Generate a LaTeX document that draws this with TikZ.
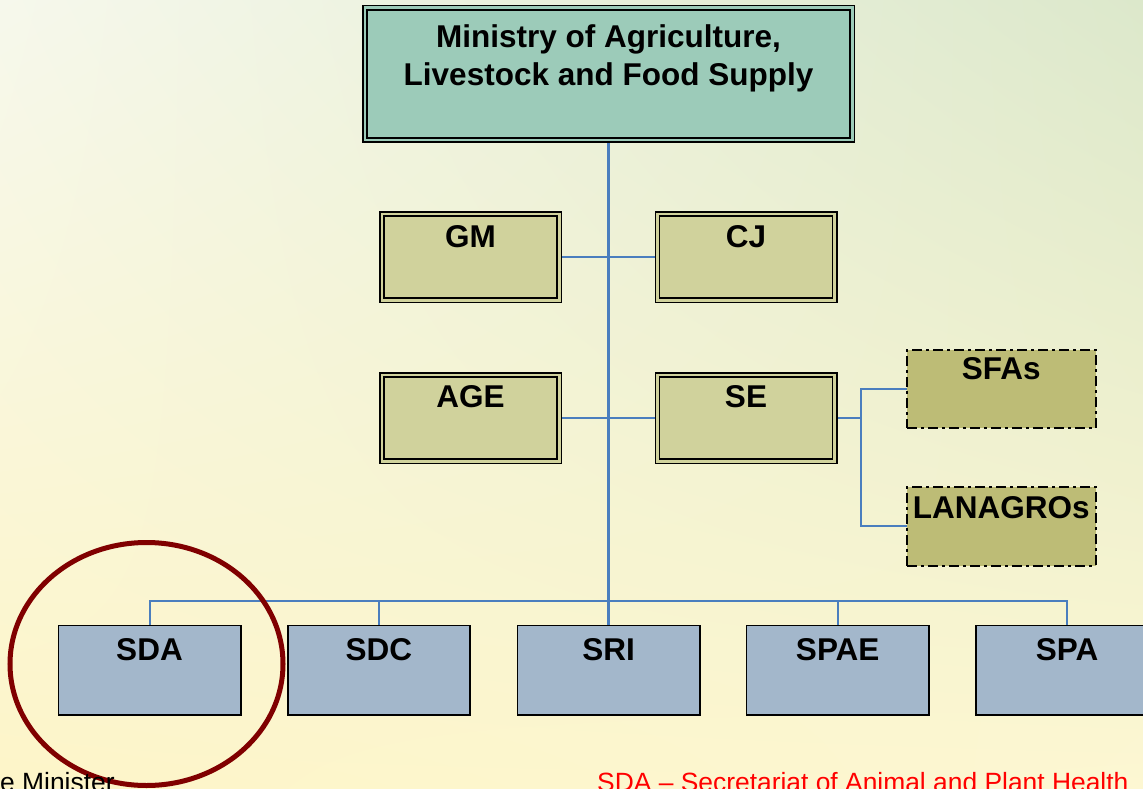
\documentclass[tikz,border=0pt]{standalone}
\usepackage{fontspec}
\setmainfont{Liberation Sans}
\usetikzlibrary{shapes.geometric,shadings}
\pgfdeclarelayer{bg}
\pgfdeclarelayer{lines}
\pgfsetlayers{bg,lines,main}
\definecolor{bgUL}{HTML}{F6F8EC}
\definecolor{bgUR}{HTML}{DCE8CB}
\definecolor{bgLL}{HTML}{FDF5C8}
\definecolor{bgLR}{HTML}{FDF7D2}
\definecolor{minFill}{HTML}{9CCBB9}
\definecolor{gFill}{HTML}{D0D29C}
\definecolor{sFill}{HTML}{BDBC76}
\definecolor{bFill}{HTML}{A3B7CB}
\definecolor{connBlue}{HTML}{4A7EBE}
\definecolor{circRed}{HTML}{800000}
\begin{document}
\begin{tikzpicture}[x=1pt,y=-1pt,
  dbl/.style={draw=black, line width=1.5pt, double=#1, double distance=2.8pt, fill=#1, inner sep=0pt, outer sep=0pt},
  dashbox/.style={draw=black, line width=2pt, dash pattern=on 10pt off 4pt on 3pt off 4pt, fill=sFill, inner sep=0pt, outer sep=0pt, minimum width=188.7pt, minimum height=78.5pt},
  botbox/.style={draw=black, line width=1.6pt, fill=bFill, inner sep=0pt, outer sep=0pt, minimum width=182.4pt, minimum height=89.4pt},
  midbox/.style={dbl=gFill, minimum width=177.2pt, minimum height=86.2pt},
  lbl/.style={font=\fontsize{31.5}{38}\selectfont\bfseries, inner sep=0pt, anchor=north, align=center},
  foot/.style={font=\fontsize{26.4}{30}\selectfont, inner sep=0pt, anchor=base west},
  conn/.style={draw=connBlue, line width=2pt},
  mainconn/.style={draw=connBlue, line width=2.6pt},
  hilite/.style={draw=circRed, line width=5pt, ellipse, inner sep=0pt, minimum width=273pt, minimum height=243pt}
]
\useasboundingbox (0,0) rectangle (1143,789);
\begin{pgfonlayer}{bg}
  \shade[upper left=bgUL, upper right=bgUR, lower left=bgLL, lower right=bgLR] (0,0) rectangle (1143,789);
\end{pgfonlayer}

% top
\node[dbl=minFill, minimum width=487.2pt, minimum height=132.2pt] (min) at (608.5,74) {};
\node[lbl] (mint) at ([yshift=-16.6pt]min.north) {Ministry of Agriculture,\\Livestock and Food Supply};

% middle
\node[midbox] (gm) at (470.5,257) {};
\node[midbox] (cj) at (746,257) {};
\node[midbox] (age) at (470.5,418) {};
\node[midbox] (se) at (746,418) {};
\node[lbl] (gmt) at ([yshift=-11.5pt]gm.north) {GM};
\node[lbl] (cjt) at ([yshift=-11.5pt]cj.north) {CJ};
\node[lbl] (aget) at ([yshift=-10.5pt]age.north) {AGE};
\node[lbl] (set) at ([yshift=-10.5pt]se.north) {SE};

% right
\node[dashbox] (sfa) at (1001.3,389.2) {};
\node[dashbox] (lan) at (1001.3,526.3) {};
\node[lbl] (sfat) at ([yshift=-7pt]sfa.north) {SFAs};
\node[lbl] (lant) at ([yshift=-9.5pt]lan.north) {LANAGROs};

% bottom
\node[botbox] (sda) at (149.5,670) {};
\node[botbox] (sdc) at (378.9,670) {};
\node[botbox] (sri) at (608.5,670) {};
\node[botbox] (spae) at (837.7,670) {};
\node[botbox] (spa) at (1067.1,670) {};
\node[lbl] (sdat) at ([yshift=-12.7pt]sda.north) {SDA};
\node[lbl] (sdct) at ([yshift=-12.7pt]sdc.north) {SDC};
\node[lbl] (srit) at ([yshift=-12.7pt]sri.north) {SRI};
\node[lbl] (spaet) at ([yshift=-12.7pt]spae.north) {SPAE};
\node[lbl] (spat) at ([yshift=-12.7pt]spa.north) {SPA};

\coordinate (bus) at (608.5,601);
\coordinate (elb) at (861,418);

\begin{pgfonlayer}{lines}
  \draw[mainconn] (min.south) -- (sri.north);
  \draw[conn] (gm.east) -- (cj.west);
  \draw[conn] (age.east) -- (se.west);
  \draw[conn] (sda.north) |- (bus) -| (spa.north);
  \draw[conn] (sdc.north) -- (sdc.north |- bus);
  \draw[conn] (spae.north) -- (spae.north |- bus);
  \draw[conn] (se.east) -- (elb) |- (sfa.west);
  \draw[conn] (elb) |- (lan.west);
\end{pgfonlayer}

% highlight
\node[hilite] (hl) at (146.5,664) {};

% footer
\node[foot] (leg1) at (0,791) {e Minister};
\node[foot, text=red] (leg2) at (597,791) {SDA -- Secretariat of Animal and Plant Health};
\end{tikzpicture}
\end{document}
